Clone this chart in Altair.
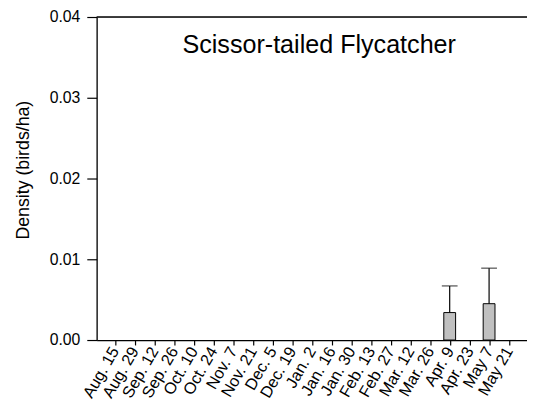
import altair as alt
import pandas as pd

dates = ["Aug. 15", "Aug. 29", "Sep. 12", "Sep. 26", "Oct. 10", "Oct. 24", "Nov. 7",
         "Nov. 21", "Dec. 5", "Dec. 19", "Jan. 2", "Jan. 16", "Jan. 30", "Feb. 13",
         "Feb. 27", "Mar. 12", "Mar. 26", "Apr. 9", "Apr. 23", "May 7", "May 21"]
density = [0, 0, 0, 0, 0, 0, 0, 0, 0, 0, 0, 0, 0, 0, 0, 0, 0, 0.0034, 0, 0.0045, 0]
upper = [0, 0, 0, 0, 0, 0, 0, 0, 0, 0, 0, 0, 0, 0, 0, 0, 0, 0.0067, 0, 0.0089, 0]
y_ticks = [0, 0.01, 0.02, 0.03, 0.04]

df = pd.DataFrame({"date": dates, "density": density, "upper": upper})

FONT = "Liberation Sans"

xscale = alt.Scale(type="point", padding=0.925, domain=dates)
x = alt.X("date:N", title=None, scale=xscale,
          axis=alt.Axis(labelAngle=-60, labelFontSize=16.5, labelFont=FONT, labelColor="black",
                        tickSize=5, tickColor="black", domainColor="black", domainWidth=1.3,
                        tickWidth=1.2, labelPadding=3, labelAlign="right", labelBaseline="middle",
                        labelOverlap=False))
y = alt.Y("density:Q", title="Density (birds/ha)",
          scale=alt.Scale(domain=[0, 0.04], nice=False),
          axis=alt.Axis(values=y_ticks, format=".2f", labelFontSize=16,
                        labelFont=FONT, labelColor="black", titleFont=FONT, titleFontSize=18,
                        titleFontWeight="normal", titleColor="black", tickSize=10,
                        tickColor="black", domainColor="black", domainWidth=1.3, tickWidth=1.2,
                        grid=False, labelPadding=7, titlePadding=17, titleY=155))

base = alt.Chart(df)
bars = base.transform_filter("datum.density > 0").mark_bar(
    size=12, color="#c0c0c0", stroke="black", strokeWidth=1).encode(x=x, y=y)
rules = base.transform_filter("datum.upper > 0").mark_rule(color="black", strokeWidth=1.2).encode(
    x=alt.X("date:N", scale=xscale), y="density:Q", y2="upper:Q")
caps = base.transform_filter("datum.upper > 0").mark_tick(
    color="black", size=16, thickness=1.2, orient="horizontal").encode(
    x=alt.X("date:N", scale=xscale), y="upper:Q")
top = alt.Chart(pd.DataFrame({"v": [0.04]})).mark_rule(color="black", strokeWidth=1.3).encode(
    y=alt.Y("v:Q"))
title = alt.Chart(pd.DataFrame({"t": ["Scissor-tailed Flycatcher"]})).mark_text(
    font=FONT, fontSize=25.5, color="black", align="center", baseline="middle").encode(
    text="t:N", x=alt.value(226), y=alt.value(29))

chart = alt.layer(bars, rules, caps, top, title).properties(
    width=437, height=328,
    autosize=alt.AutoSizeParams(type="none"),
    padding={"left": 90, "top": 6, "right": 0, "bottom": 75}
).configure_view(stroke=None).configure(background="white")

chart.save("out.html", embed_options={"renderer": "svg", "actions": False})
